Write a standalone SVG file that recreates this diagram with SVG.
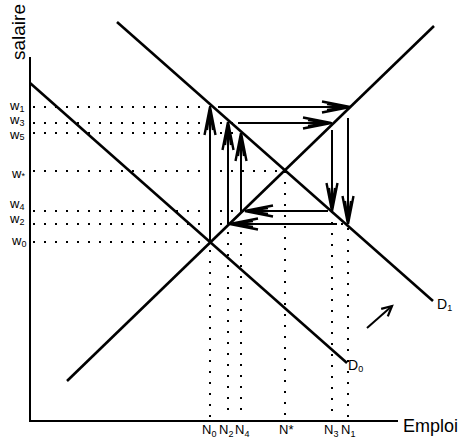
<svg xmlns="http://www.w3.org/2000/svg" width="463" height="442" viewBox="0 0 463 442">
<style>
.axis{stroke:#000;stroke-width:2;fill:none}
.curve{stroke:#000;stroke-width:2.6;fill:none}
.dot{stroke:#000;stroke-width:2;stroke-dasharray:2 9;fill:none}
.arr{stroke:#000;stroke-width:2;fill:none;marker-end:url(#head)}
.shift{stroke:#000;stroke-width:2;fill:none;marker-end:url(#small)}
text{font-family:"Liberation Sans",Arial,sans-serif;fill:#000}
.lab{font-size:14px}
.wlab{font-size:13px}
.nlab{font-size:13px}
.sub{font-size:9px}
</style>
<defs>
<marker id="head" markerUnits="userSpaceOnUse" markerWidth="34" markerHeight="16" refX="31" refY="8" orient="auto" viewBox="0 0 34 16">
<path d="M3,2.5 L31,8 L3,13.5 M8,5 L31,8 L8,11 M14,8 L31,8" fill="none" stroke="#000" stroke-width="2.4"/>
</marker>
<marker id="small" markerUnits="userSpaceOnUse" markerWidth="16" markerHeight="16" refX="13" refY="8" orient="auto" viewBox="0 0 16 16">
<path d="M3,3 L13,8 L3,13" fill="none" stroke="#000" stroke-width="2.2"/>
</marker>
</defs>

<g id="axes">
<line class="axis" x1="30" y1="57" x2="30" y2="421"/>
<line class="axis" x1="29" y1="421" x2="398" y2="421"/>
<text x="0" y="0" font-size="19" transform="translate(25,60) rotate(-90)">salaire</text>
<text x="403" y="432" font-size="18">Emploi</text>
</g>

<g id="guides">
<line class="dot" x1="33" y1="107" x2="350" y2="107"/>
<line class="dot" x1="33" y1="123" x2="334" y2="123"/>
<line class="dot" x1="33" y1="133" x2="243" y2="133"/>
<line class="dot" x1="33" y1="171" x2="285" y2="171"/>
<line class="dot" x1="33" y1="211" x2="332" y2="211"/>
<line class="dot" x1="33" y1="224" x2="348" y2="224"/>
<line class="dot" x1="33" y1="242" x2="210" y2="242"/>
<line class="dot" x1="210" y1="107" x2="210" y2="419"/>
<line class="dot" x1="228" y1="122" x2="228" y2="419"/>
<line class="dot" x1="241" y1="133" x2="241" y2="419"/>
<line class="dot" x1="285" y1="171" x2="285" y2="419"/>
<line class="dot" x1="332" y1="123" x2="332" y2="419"/>
<line class="dot" x1="348" y1="107" x2="348" y2="419"/>
</g>

<g id="D0">
<line class="curve" x1="30" y1="83" x2="347" y2="363"/>
<text class="lab" x="348" y="370">D<tspan class="sub" dy="2">0</tspan></text>
</g>
<g id="D1">
<line class="curve" x1="117" y1="22" x2="433" y2="301"/>
<text class="lab" x="437" y="309">D<tspan class="sub" dy="2">1</tspan></text>
</g>
<g id="S">
<line class="curve" x1="67" y1="381" x2="434" y2="26"/>
</g>

<g id="wlabels" class="wlab">
<text x="10" y="110">w<tspan class="sub" dy="2">1</tspan></text>
<text x="10" y="124">w<tspan class="sub" dy="2">3</tspan></text>
<text x="10" y="139">w<tspan class="sub" dy="1">5</tspan></text>
<text x="12" y="178">w<tspan class="sub" dy="1">*</tspan></text>
<text x="10" y="208">w<tspan class="sub" dy="2">4</tspan></text>
<text x="10" y="223">w<tspan class="sub" dy="2">2</tspan></text>
<text x="12" y="245">w<tspan class="sub" dy="2">0</tspan></text>
</g>

<g id="nlabels" class="nlab">
<text x="202" y="434">N<tspan class="sub" dy="3">0</tspan></text>
<text x="219" y="434">N<tspan class="sub" dy="3">2</tspan></text>
<text x="235" y="434">N<tspan class="sub" dy="3">4</tspan></text>
<text x="279" y="434">N*</text>
<text x="324" y="434">N<tspan class="sub" dy="3">3</tspan></text>
<text x="341" y="434">N<tspan class="sub" dy="3">1</tspan></text>
</g>

<g id="connectors">
<line class="arr" x1="210" y1="240" x2="210" y2="107"/>
<line class="arr" x1="218" y1="107" x2="350" y2="107"/>
<line class="arr" x1="348" y1="118" x2="348" y2="224"/>
<line class="arr" x1="337" y1="224" x2="230" y2="224"/>
<line class="arr" x1="228" y1="224" x2="228" y2="122"/>
<line class="arr" x1="238" y1="123" x2="331" y2="123"/>
<line class="arr" x1="332" y1="130" x2="332" y2="211"/>
<line class="arr" x1="328" y1="211" x2="245" y2="211"/>
<line class="arr" x1="241" y1="211" x2="241" y2="133"/>
<line class="shift" x1="367" y1="328" x2="392" y2="306"/>
</g>
</svg>
